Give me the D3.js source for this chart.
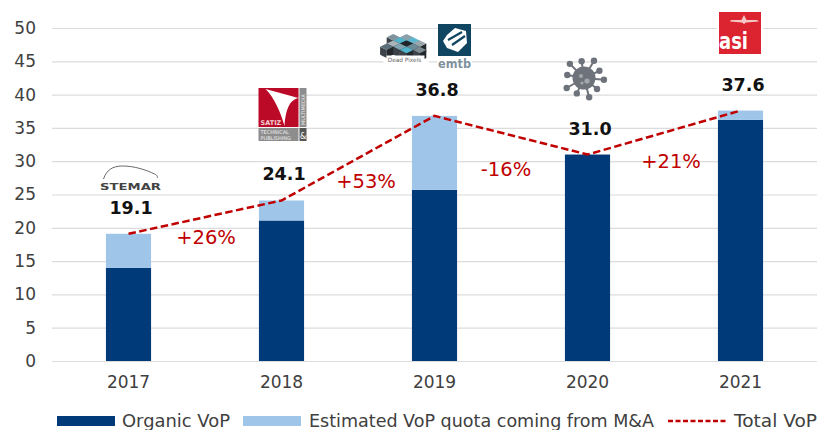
<!DOCTYPE html>
<html><head><meta charset="utf-8">
<script src="https://cdn.jsdelivr.net/npm/d3@7/dist/d3.min.js"></script>
<style>html,body{margin:0;padding:0;background:#fff}svg{display:block}text{font-family:"DejaVu Sans",Verdana,sans-serif}</style>
</head><body><svg id="c" width="817" height="430"></svg>
<script>
const years=["2017","2018","2019","2020","2021"];
const organic=[14.0,21.1,25.7,31.0,36.2];
const acquired=[5.1,3.0,11.1,0,1.4];
const totals=[19.1,24.1,36.8,31.0,37.6];
const totalLabels=["19.1","24.1","36.8","31.0","37.6"];
const growth=["+26%","+53%","-16%","+21%"];
const yTicks=[0,5,10,15,20,25,30,35,40,45,50];
const legendLabels=["Organic VoP","Estimated VoP quota coming from M&A","Total VoP"];
const navy="#003a78",light="#9fc5e8",red="#c00000",grid="#dcdcdc",ink="#404040";

const svg=d3.select("#c");
const x=d3.scaleBand().domain(years).range([52,817]).paddingInner(0.705).paddingOuter(0.3525);
const y=d3.scaleLinear().domain([0,50]).range([361,28]);
const cx=d=>x(d)+x.bandwidth()/2;

// grid
const yAxis=svg.append("g").attr("transform","translate(52,0)")
  .call(d3.axisLeft(y).tickValues(yTicks).tickSize(-765).tickPadding(16));
yAxis.select(".domain").remove();
yAxis.selectAll("line").attr("stroke",grid).attr("stroke-width",1.2);
yAxis.selectAll("text").attr("fill",ink).style("font-size","17px");

// bars
svg.append("g").selectAll("rect").data(years).join("rect")
  .attr("x",x).attr("width",x.bandwidth())
  .attr("y",(d,i)=>y(organic[i])).attr("height",(d,i)=>y(0)-y(organic[i])).attr("fill",navy);
svg.append("g").selectAll("rect").data(years).join("rect")
  .attr("x",x).attr("width",x.bandwidth())
  .attr("y",(d,i)=>y(organic[i]+acquired[i])).attr("height",(d,i)=>y(organic[i])-y(organic[i]+acquired[i])).attr("fill",light);

// x axis
const xAxis=svg.append("g").attr("transform","translate(0,361)")
  .call(d3.axisBottom(x).tickSize(0).tickPadding(15));
xAxis.select(".domain").attr("stroke",grid).attr("stroke-width",1.2);
xAxis.selectAll("text").attr("fill",ink).style("font-size","17px");

// total line
const line=d3.line().x((d,i)=>cx(years[i])).y(d=>y(d));
svg.append("path").datum(totals).attr("d",line).attr("fill","none")
  .attr("stroke",red).attr("stroke-width",2.5).attr("stroke-dasharray","7.5 3.5");

// value labels
svg.append("g").selectAll("text").data(totalLabels).join("text")
  .attr("x",(d,i)=>cx(years[i])+2.5).attr("y",(d,i)=>y(totals[i])-20)
  .attr("text-anchor","middle").attr("font-weight","bold").attr("font-size",17.5).attr("fill","#111").text(d=>d);

// growth labels
const growthPos=[[206,244],[366,188],[506,176],[671,168]];
svg.append("g").selectAll("text").data(growth).join("text")
  .attr("x",(d,i)=>growthPos[i][0]).attr("y",(d,i)=>growthPos[i][1])
  .attr("text-anchor","middle").attr("font-size",19.5).attr("fill",red).text(d=>d);

// logos
const stemar=svg.append("g").attr("transform",`translate(${cx("2017")+2},0)`);
stemar.append("path").attr("d","M-27 179 C-24 170,-18 166,-8 166 C4 166,16 170,24 174 C27 175,27 177,27 178")
  .attr("fill","none").attr("stroke","#444").attr("stroke-width",0.8);
stemar.append("text").attr("x",0).attr("y",189.5).attr("text-anchor","middle").attr("font-size",8.5).attr("font-weight","bold")
  .attr("textLength",61).attr("lengthAdjust","spacingAndGlyphs").attr("fill","#444").text("STEMAR");

const satiz=svg.append("g").attr("transform",`translate(${cx("2018")-23},88)`);
satiz.append("rect").attr("width",40).attr("height",39).attr("fill","#bb0a28");
satiz.append("path").attr("d","M7 1 L40 10 C30 12,27 24,26 38 C22 24,16 10,7 1Z").attr("fill","#fff");
satiz.append("text").attr("x",2).attr("y",37).attr("font-size",6.5).attr("font-weight","bold").attr("fill","#f3d0d5").text("SATIZ");
satiz.append("rect").attr("x",41).attr("width",7).attr("height",39).attr("fill","#8d8d8d");
satiz.append("rect").attr("y",40).attr("width",40).attr("height",13).attr("fill","#8d8d8d");
satiz.append("rect").attr("x",41).attr("y",40).attr("width",7).attr("height",13).attr("fill","#555");
satiz.append("text").attr("x",2).attr("y",46).attr("font-size",5).attr("fill","#eee").text("TECHNICAL");
satiz.append("text").attr("x",2).attr("y",51.5).attr("font-size",5).attr("fill","#eee").text("PUBLISHING");
satiz.append("text").attr("x",44.5).attr("y",50.5).attr("font-size",8).attr("text-anchor","middle").attr("fill","#fff").text("&");
satiz.append("text").attr("transform","translate(46.5,37) rotate(-90)").attr("font-size",5).attr("fill","#eee").text("MULTIMEDIA");

// Dead Pixels: small isometric blocks
const dead=svg.append("g").attr("transform","translate(405.5,33)");
dead.append("rect").attr("x",-22).attr("y",-1).attr("width",45).attr("height",32).attr("fill","#fff");
const tiles=[[0,0,"#8aa0aa"],[1,0,"#5fb6cf"],[2,0,"#9aa6ac"],[0,1,"#4fb4cc"],[1,1,"#20262b"],[2,1,"#6d8c99"],[0,2,"#a9b4ba"],[1,2,"#7fa4b2"],[2,2,"#4fb4cc"],[3,1,"#7d8a91"],[-1,1,"#80939c"],[0,3,"#5a6f79"]];
const tw=6.6,th=3.2;
tiles.forEach(([a,b,c])=>{
  const px=(a-b)*tw+1,py=(a+b)*th+1;
  dead.append("path").attr("d",`M${px-tw} ${py+th} L${px} ${py+2*th} L${px} ${py+2*th+8} L${px-tw} ${py+th+8}Z`).attr("fill","#3c4248");
  dead.append("path").attr("d",`M${px} ${py+2*th} L${px+tw} ${py+th} L${px+tw} ${py+th+8} L${px} ${py+2*th+8}Z`).attr("fill","#23282d");
});
tiles.forEach(([a,b,c])=>{
  const px=(a-b)*tw+1,py=(a+b)*th+1;
  dead.append("path").attr("d",`M${px} ${py} L${px+tw} ${py+th} L${px} ${py+2*th} L${px-tw} ${py+th}Z`).attr("fill",c);
});
dead.append("rect").attr("x",-19).attr("y",22.5).attr("width",38).attr("height",8.5).attr("fill","#fff");
dead.append("text").attr("x",-1).attr("y",29).attr("text-anchor","middle").attr("font-size",5.8).attr("fill","#666").text("Dead Pixels");

const emtb=svg.append("g").attr("transform","translate(438,24)");
emtb.append("rect").attr("width",33).attr("height",32).attr("fill","#0f4560");
emtb.append("path").attr("d","M9 11 L17 4 L28 7 L29 19 L20 28 L9 24 L5 17Z").attr("fill","#fff");
emtb.append("path").attr("d","M10 16 L24 8 M14 21 L27 12").attr("stroke","#0f4560").attr("stroke-width",2.2);
emtb.append("rect").attr("x",-1).attr("y",32).attr("width",35).attr("height",13).attr("fill","#fff");
emtb.append("text").attr("x",16.5).attr("y",44).attr("text-anchor","middle").attr("font-size",13).attr("font-weight","bold").attr("textLength",33).attr("lengthAdjust","spacingAndGlyphs").attr("fill","#7f929d").text("emtb");

// virus icon
const virus=svg.append("g").attr("transform","translate(584,78)").attr("fill","#6e737b").attr("stroke","#6e737b");
[5,40,75,115,150,190,225,262,300,335].forEach((a,i)=>{
  const r=a*Math.PI/180,rr=i%2?17:20;
  virus.append("line").attr("x2",Math.cos(r)*rr).attr("y2",Math.sin(r)*rr).attr("stroke-width",2);
  virus.append("circle").attr("cx",Math.cos(r)*rr).attr("cy",Math.sin(r)*rr).attr("r",3.2).attr("stroke","none");
});
virus.append("circle").attr("r",11.5).attr("stroke","none");
virus.append("circle").attr("cx",3).attr("cy",3).attr("r",2.6).attr("fill","#a4a8ae").attr("stroke","none");
virus.append("circle").attr("cx",-3).attr("cy",-2).attr("r",2).attr("fill","#a4a8ae").attr("stroke","none");
virus.append("circle").attr("cx",-2).attr("cy",5).attr("r",1.6).attr("fill","#a4a8ae").attr("stroke","none");

const asi=svg.append("g").attr("transform","translate(719,12)");
asi.append("rect").attr("x",-2).attr("y",-1).attr("width",46).attr("height",44).attr("fill","#fff");
asi.append("rect").attr("width",42).attr("height",42).attr("fill","#dc2430");
asi.append("path").attr("d","M12 8 L38 8 L40 9.5 L27 10.5 L25 12 L23 10.5 L11 9.5Z").attr("fill","#f6c6c6");
asi.append("path").attr("d","M25 3 L27.5 8 L22.5 8Z").attr("fill","#f6c6c6");
asi.append("text").attr("x",0).attr("y",37).attr("font-size",23).attr("font-weight","bold").attr("font-family","Liberation Sans").attr("fill","#fff").attr("textLength",29).attr("lengthAdjust","spacingAndGlyphs").text("asi");

// legend
const leg=svg.append("g");
leg.append("rect").attr("x",57).attr("y",416).attr("width",58).attr("height",10).attr("fill",navy);
leg.append("text").attr("x",122).attr("y",427).attr("font-size",17.5).attr("textLength",108).attr("lengthAdjust","spacingAndGlyphs").attr("fill",ink).text(legendLabels[0]);
leg.append("rect").attr("x",243).attr("y",416).attr("width",58).attr("height",10).attr("fill",light);
leg.append("text").attr("x",309).attr("y",427).attr("font-size",17.5).attr("textLength",345).attr("lengthAdjust","spacingAndGlyphs").attr("fill",ink).text(legendLabels[1]);
leg.append("line").attr("x1",668).attr("x2",727).attr("y1",421).attr("y2",421).attr("stroke",red).attr("stroke-width",2.5).attr("stroke-dasharray","5 2.5");
leg.append("text").attr("x",734).attr("y",427).attr("font-size",17.5).attr("textLength",83).attr("lengthAdjust","spacingAndGlyphs").attr("fill",ink).text(legendLabels[2]);
</script></body></html>
